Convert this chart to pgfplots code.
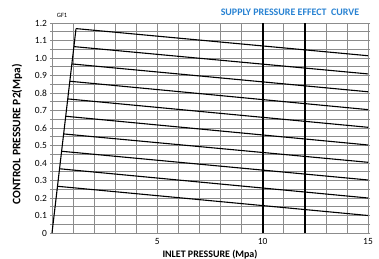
\documentclass[border=0pt]{standalone}
\usepackage{pgfplots}
\pgfplotsset{compat=1.18}
\usepackage{fontspec}
\setmainfont{Carlito}
\definecolor{titleblue}{RGB}{40,130,210}
\definecolor{gridgray}{RGB}{140,140,140}
\begin{document}
\begin{tikzpicture}
\begin{axis}[
  scale only axis, width=316bp, height=210bp,
  xmin=0, xmax=15, ymin=0, ymax=1.2,
  xtick={5,10,15},
  minor xtick={1,2,3,4,6,7,8,9,11,12,13,14},
  ytick={0,0.1,0.2,0.3,0.4,0.5,0.6,0.7,0.8,0.9,1.0,1.1,1.2},
  yticklabels={0,0.1,0.2,0.3,0.4,0.5,0.6,0.7,0.8,0.9,1.0,1.1,1.2},
  minor ytick={0.05,0.15,0.25,0.35,0.45,0.55,0.65,0.75,0.85,0.95,1.05,1.15},
  grid=both,
  major grid style={gridgray, line width=0.7bp},
  minor grid style={gridgray, line width=0.7bp},
  axis line style={gridgray, line width=0.7bp},
  tick align=outside,
  x tick style={draw=none},
  y tick style={gridgray, line width=0.7bp},
  major tick length=2bp, minor tick length=2bp,
  tick label style={font=\fontsize{9.5}{11}\selectfont},
  yticklabel style={xshift=0.5bp},
  /pgf/number format/assume math mode=true,
  xlabel={INLET PRESSURE (Mpa)},
  ylabel={CONTROL PRESSURE P2(Mpa)},
  xlabel style={font=\bfseries\fontsize{10}{12}\selectfont, at={(axis description cs:0.5,-0.105)}, anchor=center},
  ylabel style={font=\bfseries\fontsize{11.5}{13}\selectfont, at={(axis description cs:-0.111,0.47)}, anchor=center},
  clip=false,
]
\addplot[black, line width=1.1bp] coordinates {(0,0) (1.14,1.168)};
\addplot[black, line width=1.1bp] coordinates {(1.14,1.168) (15,1.013)};
\addplot[black, line width=1.1bp] coordinates {(1.05,1.065) (15,0.909)};
\addplot[black, line width=1.1bp] coordinates {(0.95,0.966) (15,0.807)};
\addplot[black, line width=1.1bp] coordinates {(0.86,0.867) (15,0.705)};
\addplot[black, line width=1.1bp] coordinates {(0.76,0.766) (15,0.604)};
\addplot[black, line width=1.1bp] coordinates {(0.66,0.667) (15,0.503)};
\addplot[black, line width=1.1bp] coordinates {(0.56,0.566) (15,0.404)};
\addplot[black, line width=1.1bp] coordinates {(0.46,0.467) (15,0.303)};
\addplot[black, line width=1.1bp] coordinates {(0.36,0.367) (15,0.200)};
\addplot[black, line width=1.1bp] coordinates {(0.26,0.267) (15,0.100)};
\addplot[black, line width=1.8bp] coordinates {(10,0) (10,1.2)};
\addplot[black, line width=1.8bp] coordinates {(12,0) (12,1.2)};
\node[font=\bfseries\fontsize{10}{12}\selectfont, text=titleblue, anchor=center] at (axis description cs:0.753,1.052) {SUPPLY PRESSURE EFFECT\ \ CURVE};
\node[font=\fontsize{6.5}{8}\selectfont, anchor=center] at (axis description cs:0.032,1.038) {GF1};
\coordinate (O) at (rel axis cs:0,0);
\end{axis}
\pgfresetboundingbox
\path (O) ++(-52bp,-26bp) rectangle ++(379bp,259bp);
\end{tikzpicture}
\end{document}
